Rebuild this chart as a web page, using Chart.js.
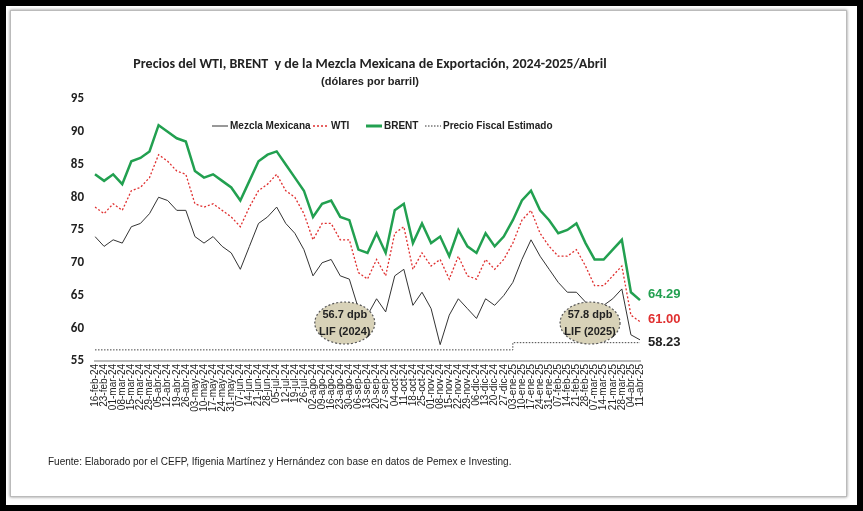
<!DOCTYPE html>
<html><head><meta charset="utf-8">
<script src="https://cdn.jsdelivr.net/npm/chart.js@4"></script>
<style>
body{margin:0;background:#fff;font-family:Calibri,"Liberation Sans",sans-serif}
#frame{position:absolute;left:0;top:0;width:851px;height:499px;border:6px solid #000}
#inner{position:absolute;left:10px;top:10px;width:835px;height:485px;border:1px solid #bbb;box-shadow:0 0 3px #888}
canvas{position:absolute;left:0;top:0}
</style></head><body>
<div id="frame"></div><div id="inner"></div>
<canvas id="c" width="863" height="511"></canvas>
<script>
const labels=["16-feb-24","23-feb-24","01-mar-24","08-mar-24","15-mar-24","22-mar-24","29-mar-24","05-abr-24","12-abr-24","19-abr-24","26-abr-24","03-may-24","10-may-24","17-may-24","24-may-24","31-may-24","07-jun-24","14-jun-24","21-jun-24","28-jun-24","05-jul-24","12-jul-24","19-jul-24","26-jul-24","02-ago-24","09-ago-24","16-ago-24","23-ago-24","30-ago-24","06-sep-24","13-sep-24","20-sep-24","27-sep-24","04-oct-24","11-oct-24","18-oct-24","25-oct-24","01-nov-24","08-nov-24","15-nov-24","22-nov-24","29-nov-24","06-dic-24","13-dic-24","20-dic-24","27-dic-24","03-ene-25","10-ene-25","17-ene-25","24-ene-25","31-ene-25","07-feb-25","14-feb-25","21-feb-25","28-feb-25","07-mar-25","14-mar-25","21-mar-25","28-mar-25","04-abr-25","11-abr-25"];
const brent=[83.5,82.5,83.5,82,85.5,86,87,91,90,89,88.5,84,83,83.5,82.5,81.5,79.5,82.5,85.5,86.5,87,85,83,81,77,79,79.5,77,76.5,72,71.5,74.5,71.5,78,79,73,76,73,74,71,75,72.5,71.5,74.5,72.5,74,76.5,79.5,81,78,76.5,74.5,75,76,73,70.5,70.5,72,73.5,65.5,64.29];
const wti=[78.5,77.5,79,78,81,81.5,83,86.5,85.5,84,83.5,79,78.5,79,78,77,75.5,78.5,81,82,83.5,81,80,77.5,73.5,76,76,73.5,73.5,68.5,67.5,70.5,68,74.5,75.5,69,71.5,69.5,70.5,67.5,71,68,67.5,70.5,69,70.5,73,76.5,78,74.5,72.5,71,71,72,69.5,66.5,66.5,68,69.5,62,61];
const mezcla=[74,72.5,73.5,73,75.5,76,77.5,80,79.5,78,78,74,73,74,72.5,71.5,69,72.5,76,77,78.5,76,74.5,72,68,70,70.5,68,67.5,63,62,64.5,62.5,68,69,63.5,65.5,63,57.5,62,64.5,63,61.5,64.5,63.5,65,67,70.5,73.5,71,69,67,65.5,65.5,64,62,63.5,64.5,66,59,58.23];
const fiscal=[...Array(46).fill(56.7),...Array(15).fill(57.8)];
const yTicks=[55,60,65,70,75,80,85,90,95];

const deco={id:'deco',afterDraw(ch){
 const c=ch.ctx,x=ch.scales.x,y=ch.scales.y;
 c.save();c.textAlign='center';c.fillStyle='#222';
 c.font='bold 14px Calibri, "Liberation Sans Narrow", sans-serif';
 c.fillText('Precios del WTI, BRENT  y de la Mezcla Mexicana de Exportación, 2024-2025/Abril',370,68);
 c.font='bold 11px "Liberation Sans Narrow", sans-serif';
 c.fillText('(dólares por barril)',370,85);
 // legend
 const items=[['Mezcla Mexicana','#333',1,[]],['WTI','#e03030',1.5,[2,2]],['BRENT','#22a050',3,[]],['Precio Fiscal Estimado','#333',1,[1.5,1.5]]];
 let lx=[212,313,366,425];c.font='bold 10px "Liberation Sans Narrow", sans-serif';c.textAlign='left';c.textBaseline='middle';
 items.forEach((it,i)=>{c.strokeStyle=it[1];c.lineWidth=it[2];c.setLineDash(it[3]);c.beginPath();c.moveTo(lx[i],126);c.lineTo(lx[i]+16,126);c.stroke();c.setLineDash([]);c.fillStyle='#222';c.fillText(it[0],lx[i]+18,126);});
 // ellipses
 [[labels.indexOf('06-sep-24')-1.5,60.8,'56.7 dpb','LIF (2024)'],[labels.indexOf('21-feb-25')+1.5,60.8,'57.8 dpb','LIF (2025)']].forEach(e=>{
  const ex=x.getPixelForValue(e[0]),ey=y.getPixelForValue(e[1]);
  c.beginPath();c.ellipse(ex,ey,30,21,0,0,Math.PI*2);c.fillStyle='#d8d2b8';c.fill();c.setLineDash([2,2]);c.strokeStyle='#555';c.lineWidth=1.2;c.stroke();c.setLineDash([]);
  c.fillStyle='#222';c.textAlign='center';c.font='bold 11px "Liberation Sans Narrow", sans-serif';c.fillText(e[2],ex,ey-8);c.fillText(e[3],ex,ey+9);});
 // end labels
 const lx2=x.getPixelForValue(60)+8;c.textAlign='left';c.font='bold 13px "Liberation Sans Narrow", sans-serif';
 [[brent[60],'#22a050',64.29],[wti[60],'#e03030',61],[mezcla[60],'#222',58.23]].forEach((e,i)=>{c.fillStyle=e[1];c.fillText(e[2].toFixed(2),lx2,y.getPixelForValue([65.2,61.3,57.9][i]));});
 c.fillStyle='#222';c.font='10px "Liberation Sans Narrow", sans-serif';
 c.fillText('Fuente: Elaborado por el CEFP, Ifigenia Martínez y Hernández con base en datos de Pemex e Investing.',48,462);
 c.restore();}};

new Chart(document.getElementById('c'),{type:'line',
 data:{labels,datasets:[
  {data:brent,borderColor:'#22a050',borderWidth:2.5},
  {data:wti,borderColor:'#e03030',borderWidth:1.3,borderDash:[2,2]},
  {data:mezcla,borderColor:'#333',borderWidth:1},
  {data:fiscal,borderColor:'#444',borderWidth:1,borderDash:[1.5,1.5],stepped:'before'}]},
 options:{responsive:false,animation:false,events:[],
  elements:{point:{radius:0},line:{tension:0}},
  layout:{padding:{left:50,right:223,top:99,bottom:95}},
  plugins:{legend:{display:false},tooltip:{enabled:false}},
  scales:{
   x:{grid:{display:false,drawTicks:false},border:{color:'#bbb',width:2},
      afterFit(s){s.height=55;},
      ticks:{autoSkip:false,maxRotation:90,minRotation:90,padding:3,color:'#222',font:{size:10,family:'"Liberation Sans Narrow", sans-serif'}}},
   y:{min:55,max:95,afterFit(s){s.width=45;},afterBuildTicks(s){s.ticks=yTicks.map(v=>({value:v}));},
      grid:{display:false},border:{display:false},
      ticks:{color:'#222',font:{size:13,weight:'bold',family:'Calibri, "Liberation Sans Narrow", sans-serif'}}}}},
 plugins:[deco]});
</script></body></html>
